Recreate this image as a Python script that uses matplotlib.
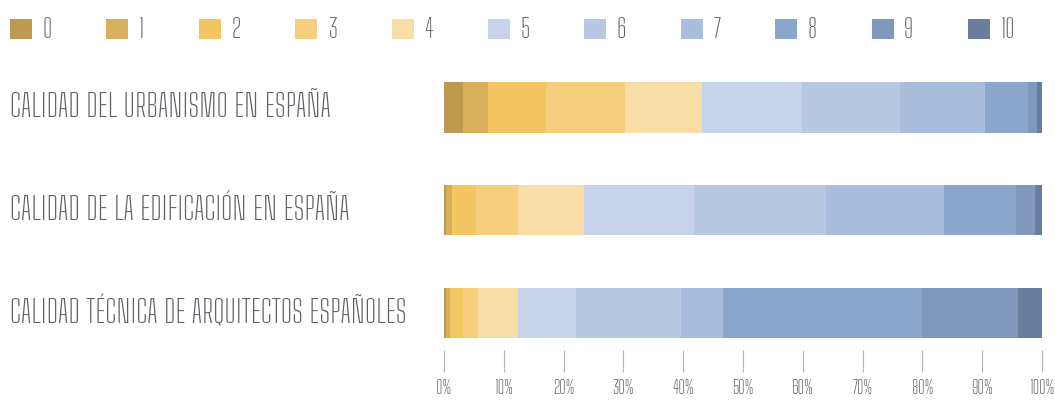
import matplotlib.pyplot as plt
import matplotlib.transforms as mtransforms
from matplotlib.patches import Patch

# share of answers (%) for each score 0..10
scores = ["0", "1", "2", "3", "4", "5", "6", "7", "8", "9", "10"]
categories = [
    "CALIDAD DEL URBANISMO EN ESPAÑA",
    "CALIDAD DE LA EDIFICACIÓN EN ESPAÑA",
    "CALIDAD TÉCNICA DE ARQUITECTOS ESPAÑOLES",
]
urbanismo = [3.2, 4.2, 9.7, 13.1, 13.0, 16.6, 16.4, 14.2, 7.3, 1.5, 0.8]
edificacion = [0.3, 1.0, 4.0, 7.1, 11.0, 18.4, 22.1, 19.7, 12.0, 3.2, 1.2]
arquitectos = [0.3, 0.7, 2.2, 2.5, 6.7, 9.7, 17.6, 6.9, 33.3, 16.1, 4.0]
series = [urbanismo, edificacion, arquitectos]

colors = ["#BE9A50", "#D8B05C", "#F4C563", "#F6CF7E", "#F9DDA6",
          "#C7D3EA", "#B7C8E3", "#A8BCDC", "#8AA6CA", "#7F98BC", "#687E9C"]
text_color = "#5f6368"
font = "Big Shoulders Text"

fig = plt.figure(figsize=(10.55, 4.0), dpi=100)
ax = fig.add_axes([444 / 1055, 1 - 350 / 400, 598 / 1055, 290 / 400])

for row, values in enumerate(series):
    left = 0
    for k, v in enumerate(values):
        ax.barh(row, v, left=left, height=0.487, color=colors[k], linewidth=0)
        left += v

ax.set_xlim(0, 100)
ax.set_ylim(2.36, -0.462)
ax.set_yticks([])
ax.set_xticks(range(0, 101, 10))
ax.set_xticklabels([f"{t}%" for t in range(0, 101, 10)], fontfamily=font,
                   fontweight=300, fontsize=13.5, color=text_color)
ax.tick_params(axis="x", direction="out", length=16, width=0.8,
               color="#b0b4b8", pad=5)
for s in ax.spines.values():
    s.set_visible(False)

trans = mtransforms.blended_transform_factory(fig.transFigure, ax.transData)
for row, name in enumerate(categories):
    ax.text(10 / 1055, row, name, transform=trans, ha="left", va="center",
            fontfamily=font, fontweight=300, fontsize=23, color=text_color)

handles = [Patch(facecolor=c, edgecolor="none") for c in colors]
fig.legend(handles, scores, loc="center left", ncol=11, mode="expand",
           bbox_to_anchor=(10 / 1055, 1 - 44 / 400, 1005 / 1055, 28 / 400),
           frameon=False, handlelength=0.83, handleheight=0.76, handletextpad=0.4,
           borderaxespad=0, borderpad=0,
           prop={"family": font, "weight": 300, "size": 19}, labelcolor=text_color)

fig.savefig("out.png", dpi=100)
